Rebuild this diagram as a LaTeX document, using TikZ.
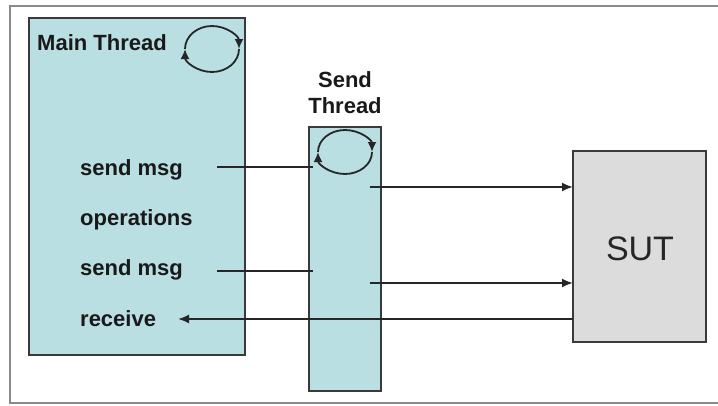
\documentclass[tikz,border=0pt]{standalone}
\usepackage{fontspec}
\setmainfont{Liberation Sans}
\usetikzlibrary{arrows.meta}
\definecolor{threadfill}{HTML}{B9DFE3}
\definecolor{sutfill}{HTML}{DCDCDC}
\definecolor{edge}{HTML}{3A3A3A}
\definecolor{frame}{HTML}{8A8A8A}
\tikzset{
  box/.style={draw=edge, line width=2pt},
  lbl/.style={font=\fontsize{22}{24}\selectfont\bfseries, inner sep=0pt, anchor=base west, text=black!90},
  conn/.style={draw=black!85, line width=1.9pt},
  arr/.style={conn, -{Latex[length=11pt,width=9pt]}},
  loop/.style={draw=black!85, line width=1.8pt, -{Latex[length=10pt,width=9pt]}}
}
\begin{document}
\begin{tikzpicture}[x=1pt,y=-1pt]
\useasboundingbox (0,0) rectangle (718,405);
\begin{scope}
\clip (0,0) rectangle (718,405);
\draw[draw=frame, line width=2.8pt] (10,6) rectangle (730,403);
\end{scope}
% boxes
\path[box, fill=threadfill] (29,18) rectangle (245,355);
\path[box, fill=threadfill] (309,127) rectangle (381,391);
\path[box, fill=sutfill] (573,151) rectangle (706,342);
% labels
\node[lbl] (mt) at (37,50) {Main Thread};
\node[lbl, anchor=base] (st1) at (345,87) {Send};
\node[lbl, anchor=base] (st2) at (345,113) {Thread};
\node[lbl] (sm1) at (80,175) {send msg};
\node[lbl] (ops) at (80,225) {operations};
\node[lbl] (sm2) at (80,275) {send msg};
\node[lbl] (rcv) at (80,326) {receive};
\node[font=\fontsize{34}{36}\selectfont, inner sep=0pt, anchor=base, text=black!85] (sut) at (640,260) {SUT};
% loops
\draw[loop] (239,49) arc[x radius=27, y radius=23, start angle=0, end angle=180];
\draw[loop] (185,49) arc[x radius=27, y radius=23, start angle=180, end angle=360];
\draw[loop] (372,152) arc[x radius=27, y radius=22, start angle=0, end angle=180];
\draw[loop] (318,152) arc[x radius=27, y radius=22, start angle=180, end angle=360];
% connectors
\coordinate (a1s) at (217,167);
\coordinate (a1e) at (313,167);
\coordinate (a2s) at (217,271);
\coordinate (a2e) at (313,271);
\coordinate (b1s) at (370,187);
\coordinate (b1e) at (573,187);
\coordinate (b2s) at (370,283);
\coordinate (b2e) at (573,283);
\coordinate (rs) at (573,319);
\coordinate (re) at (178,319);
\draw[conn] (a1s) -- (a1e);
\draw[conn] (a2s) -- (a2e);
\draw[arr] (b1s) -- (b1e);
\draw[arr] (b2s) -- (b2e);
\draw[arr] (rs) -- (re);
\end{tikzpicture}
\end{document}
